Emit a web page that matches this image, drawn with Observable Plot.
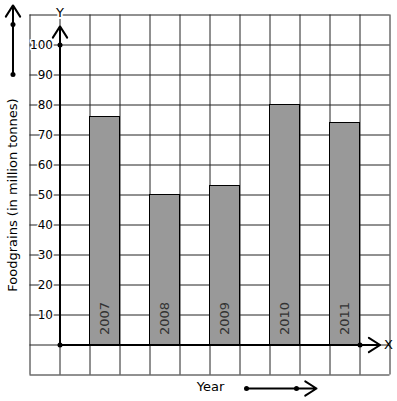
<!DOCTYPE html>
<html><head><meta charset="utf-8">
<script src="https://cdn.jsdelivr.net/npm/d3@7"></script>
<script src="https://cdn.jsdelivr.net/npm/@observablehq/plot@0.6"></script>
<style>body{margin:0;background:#fff}svg{display:block}</style>
</head><body><div id="chart"></div>
<script>
const years = ["2007", "2008", "2009", "2010", "2011"];
const values = [76, 50, 53, 80, 74];
const yTicks = [10, 20, 30, 40, 50, 60, 70, 80, 90, 100];
const yTitle = "Foodgrains (in million tonnes)";
const xTitle = "Year";

// grid in cell units (x) and value units (y)
const gridX = d3.range(0, 13);           // 13 vertical lines
const gridY = d3.range(-10, 111, 10);    // horizontal lines every 10
const bars = years.map((y, i) => ({year: y, value: values[i], slot: 2 + 2 * i}));

const W = 397, H = 401;
const font = "DejaVu Sans, sans-serif";

const chart = Plot.plot({
  width: W, height: H,
  margin: 0,
  style: {fontFamily: font, background: "#fff"},
  x: {type: "linear", domain: [-29.5 / 30, (W - 29.5) / 30], range: [0, W], axis: null},
  y: {type: "linear", domain: [(344.5 - H) / 3, 344.5 / 3], range: [H, 0], axis: null},
  marks: [
    // grid
    Plot.ruleX(gridX, {x: d => d, y1: -10, y2: 110, stroke: "#222", strokeWidth: 1}),
    Plot.ruleY(gridY, {y: d => d, x1: 0, x2: 12, stroke: "#222", strokeWidth: 1}),
    // bars
    Plot.rect(bars, {x1: "slot", x2: d => d.slot + 1, y1: 0, y2: "value", fill: "#999", stroke: "#000", strokeWidth: 1}),
    Plot.text(bars, {x: d => d.slot + 0.5, y: 0, text: "year", rotate: -90, textAnchor: "start", lineAnchor: "middle", dy: -10, fontSize: 13, fill: "#333"}),
    // axes
    Plot.arrow([0], {x1: 1, y1: 0, x2: 1, y2: 106.2, stroke: "#000", strokeWidth: 2, headLength: 10, headAngle: 65}),
    Plot.arrow([0], {x1: 1, y1: 0, x2: 11.67, y2: 0, stroke: "#000", strokeWidth: 2, headLength: 10, headAngle: 65}),
    Plot.dot([[1, 0], [1, 100], [11, 0]], {x: d => d[0], y: d => d[1], r: 2.5, fill: "#000"}),
    // tick labels
    Plot.text(yTicks, {x: 0, y: d => d, text: d => String(d), textAnchor: "end", dx: 23, fontSize: 12, fill: "#000", stroke: "#fff", strokeWidth: 3}),
    Plot.text(["Y"], {x: 1, y: 110.8, text: d => d, fontSize: 13, fill: "#000", stroke: "#fff", strokeWidth: 4}),
    Plot.text(["X"], {x: 11.95, y: 0, text: d => d, fontSize: 13, fill: "#000"}),
    // axis titles
    Plot.text([yTitle], {x: -0.583, y: 50, text: d => d, rotate: -90, fontSize: 13, fill: "#000"}),
    Plot.text([xTitle], {x: 6.017, y: -13.8, text: d => d, fontSize: 13, fill: "#000"}),
    // decorative arrows
    Plot.arrow([0], {x1: -0.567, y1: 90.2, x2: -0.567, y2: 113.2, stroke: "#000", strokeWidth: 2, headLength: 10, headAngle: 65}),
    Plot.arrow([0], {x1: 7.217, y1: -14.5, x2: 9.55, y2: -14.5, stroke: "#000", strokeWidth: 2, headLength: 10, headAngle: 65}),
    Plot.dot([[-0.567, 106.8], [-0.567, 90.2], [7.217, -14.5], [8.883, -14.5]], {x: d => d[0], y: d => d[1], r: 2.5, fill: "#000"})
  ]
});
document.getElementById("chart").appendChild(chart);
</script>
</body></html>
